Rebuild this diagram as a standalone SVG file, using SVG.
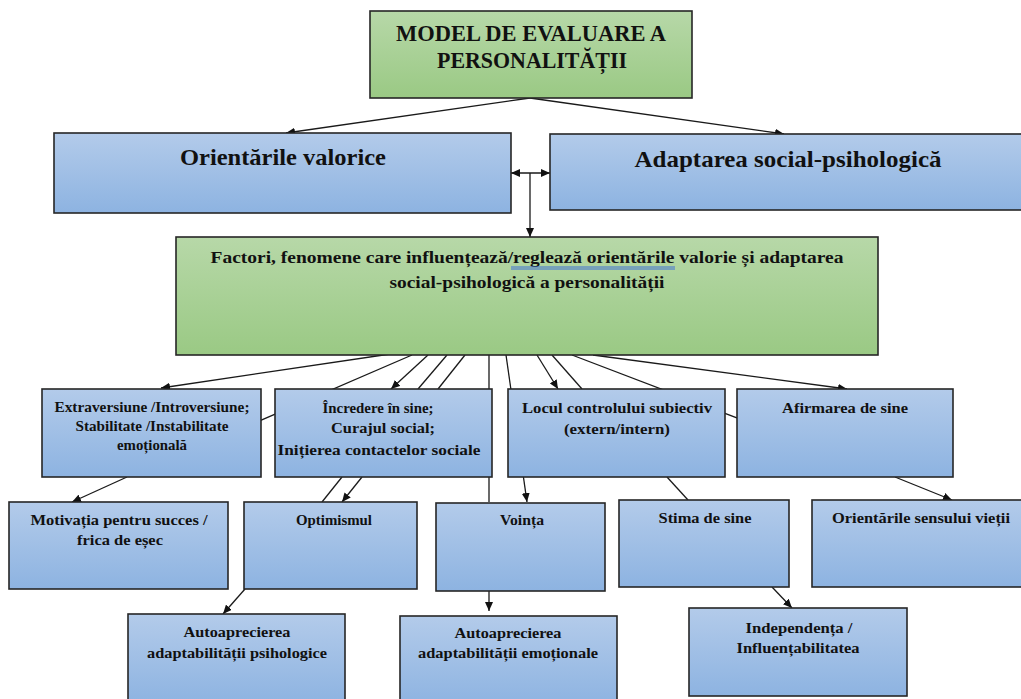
<svg xmlns="http://www.w3.org/2000/svg" width="1021" height="699" viewBox="0 0 1021 699">
<defs>
<linearGradient id="gBlue" x1="0" y1="0" x2="0" y2="1">
<stop offset="0" stop-color="#b3cbea"/>
<stop offset="1" stop-color="#8db3e1"/>
</linearGradient>
<linearGradient id="gGreen" x1="0" y1="0" x2="0" y2="1">
<stop offset="0" stop-color="#b7d8a8"/>
<stop offset="1" stop-color="#9ac984"/>
</linearGradient>
<marker id="ah" markerUnits="userSpaceOnUse" markerWidth="9" markerHeight="8" refX="9" refY="4" orient="auto-start-reverse" viewBox="0 0 9 8">
<path d="M0,0 L9,4 L0,8 z" fill="#111"/>
</marker>
</defs>
<style>
.blue{fill:url(#gBlue);stroke:#262626;stroke-width:1.6}
.green{fill:url(#gGreen);stroke:#262626;stroke-width:1.6}
.c{stroke:#1a1a1a;stroke-width:1.3;fill:none}
.a{marker-end:url(#ah)}
.t{font-family:"Liberation Serif","Times New Roman",serif;font-weight:bold;fill:#111;text-anchor:middle}
.t24{font-size:24px}
.t22{font-size:23px}
.t17{font-size:17px}
.t15{font-size:15px}
</style>
<g id="connectors">
<line class="c a" x1="530" y1="98" x2="286" y2="133"/>
<line class="c a" x1="530" y1="98" x2="784" y2="134"/>
<line class="c a" x1="511" y1="173" x2="550" y2="173" style="marker-start:url(#ah)"/>
<line class="c a" x1="530" y1="173" x2="530" y2="237"/>
<line class="c a" x1="397" y1="353" x2="161" y2="388"/>
<line class="c" x1="412" y1="355" x2="250" y2="425"/>
<line class="c a" x1="428" y1="355" x2="391" y2="389"/>
<line class="c" x1="447" y1="355" x2="418" y2="389"/>
<line class="c" x1="465" y1="355" x2="438" y2="389"/>
<line class="c" x1="489" y1="355" x2="489" y2="502"/>
<line class="c a" x1="506" y1="355" x2="527" y2="502"/>
<line class="c a" x1="537" y1="355" x2="558" y2="389"/>
<line class="c" x1="552" y1="355" x2="582" y2="389"/>
<line class="c" x1="572" y1="355" x2="800" y2="442"/>
<line class="c a" x1="593" y1="355" x2="847" y2="389"/>
<line class="c a" x1="127" y1="477" x2="72" y2="502"/>
<line class="c" x1="342" y1="477" x2="322" y2="502"/>
<line class="c a" x1="362" y1="477" x2="342" y2="502"/>
<line class="c" x1="667" y1="477" x2="688" y2="500"/>
<line class="c a" x1="895" y1="477" x2="952" y2="500"/>
<line class="c a" x1="245" y1="589" x2="223" y2="614"/>
<line class="c a" x1="489" y1="591" x2="489" y2="611"/>
<line class="c a" x1="772" y1="587" x2="792" y2="608"/>
</g>
<g id="model">
<rect class="green" x="370" y="11" width="322" height="87"/>
<text class="t t24" x="531" y="41" textLength="270" lengthAdjust="spacingAndGlyphs">MODEL DE EVALUARE A</text>
<text class="t t24" x="532" y="68" textLength="190" lengthAdjust="spacingAndGlyphs">PERSONALITĂȚII</text>
</g>
<g id="orientari">
<rect class="blue" x="54" y="133" width="457" height="80"/>
<text class="t t22" x="283" y="165" textLength="206" lengthAdjust="spacingAndGlyphs">Orientările valorice</text>
</g>
<g id="adaptarea">
<rect class="blue" x="550" y="134" width="475" height="76"/>
<text class="t t22" x="788" y="167" textLength="307" lengthAdjust="spacingAndGlyphs">Adaptarea social-psihologică</text>
</g>
<g id="factori">
<rect class="green" x="176" y="237" width="702" height="118"/>
<text class="t t17" x="527" y="263" textLength="633" lengthAdjust="spacingAndGlyphs">Factori, fenomene care influențează/reglează  orientările valorie și adaptarea</text>
<text class="t t17" x="527" y="288" textLength="275" lengthAdjust="spacingAndGlyphs">social-psihologică a personalității</text>
<line x1="511" y1="267" x2="675" y2="267" stroke="#3f6fd6" stroke-width="1"/>
<line x1="511" y1="269" x2="675" y2="269" stroke="#3f6fd6" stroke-width="1"/>
</g>
<g id="extraversiune">
<rect class="blue" x="42" y="389" width="219" height="88"/>
<text class="t t15" x="152" y="412" textLength="195" lengthAdjust="spacingAndGlyphs">Extraversiune /Introversiune;</text>
<text class="t t15" x="152" y="431" textLength="153" lengthAdjust="spacingAndGlyphs">Stabilitate /Instabilitate</text>
<text class="t t15" x="152" y="450" textLength="70" lengthAdjust="spacingAndGlyphs">emoțională</text>
</g>
<g id="incredere">
<rect class="blue" x="275" y="389" width="217" height="88"/>
<text class="t t15" x="378" y="413" textLength="111" lengthAdjust="spacingAndGlyphs">Încredere în sine;</text>
<text class="t t15" x="383" y="433" textLength="104" lengthAdjust="spacingAndGlyphs">Curajul social;</text>
<text class="t t15" x="379" y="455" textLength="203" lengthAdjust="spacingAndGlyphs">Inițierea contactelor sociale</text>
</g>
<g id="locul">
<rect class="blue" x="508" y="389" width="217" height="88"/>
<text class="t t15" x="617" y="413" textLength="190" lengthAdjust="spacingAndGlyphs">Locul controlului subiectiv</text>
<text class="t t15" x="617" y="434" textLength="106" lengthAdjust="spacingAndGlyphs">(extern/intern)</text>
</g>
<g id="afirmarea">
<rect class="blue" x="737" y="389" width="216" height="88"/>
<text class="t t15" x="845" y="413" textLength="126" lengthAdjust="spacingAndGlyphs">Afirmarea de sine</text>
</g>
<g id="motivatia">
<rect class="blue" x="9" y="502" width="219" height="87"/>
<text class="t t15" x="119" y="525" textLength="177" lengthAdjust="spacingAndGlyphs">Motivația pentru succes /</text>
<text class="t t15" x="120" y="545" textLength="86" lengthAdjust="spacingAndGlyphs">frica de eșec</text>
</g>
<g id="optimismul">
<rect class="blue" x="244" y="502" width="173" height="87"/>
<text class="t t15" x="334" y="525" textLength="76" lengthAdjust="spacingAndGlyphs">Optimismul</text>
</g>
<g id="vointa">
<rect class="blue" x="436" y="503" width="169" height="88"/>
<text class="t t15" x="522" y="525" textLength="44" lengthAdjust="spacingAndGlyphs">Voința</text>
</g>
<g id="stima">
<rect class="blue" x="619" y="500" width="170" height="87"/>
<text class="t t15" x="705" y="523" textLength="93" lengthAdjust="spacingAndGlyphs">Stima de sine</text>
</g>
<g id="sensul">
<rect class="blue" x="812" y="500" width="213" height="87"/>
<text class="t t15" x="921" y="523" textLength="178" lengthAdjust="spacingAndGlyphs">Orientările sensului vieții</text>
</g>
<g id="autoapreciere-psihologica">
<rect class="blue" x="128" y="614" width="217" height="90"/>
<text class="t t15" x="237" y="637" textLength="107" lengthAdjust="spacingAndGlyphs">Autoaprecierea</text>
<text class="t t15" x="237" y="658" textLength="180" lengthAdjust="spacingAndGlyphs">adaptabilității psihologice</text>
</g>
<g id="autoapreciere-emotionala">
<rect class="blue" x="400" y="616" width="217" height="90"/>
<text class="t t15" x="508" y="638" textLength="107" lengthAdjust="spacingAndGlyphs">Autoaprecierea</text>
<text class="t t15" x="508" y="658" textLength="180" lengthAdjust="spacingAndGlyphs">adaptabilității emoționale</text>
</g>
<g id="independenta">
<rect class="blue" x="689" y="608" width="218" height="88"/>
<text class="t t15" x="799" y="633" textLength="107" lengthAdjust="spacingAndGlyphs">Independența /</text>
<text class="t t15" x="798" y="653" textLength="123" lengthAdjust="spacingAndGlyphs">Influențabilitatea</text>
</g>
</svg>
